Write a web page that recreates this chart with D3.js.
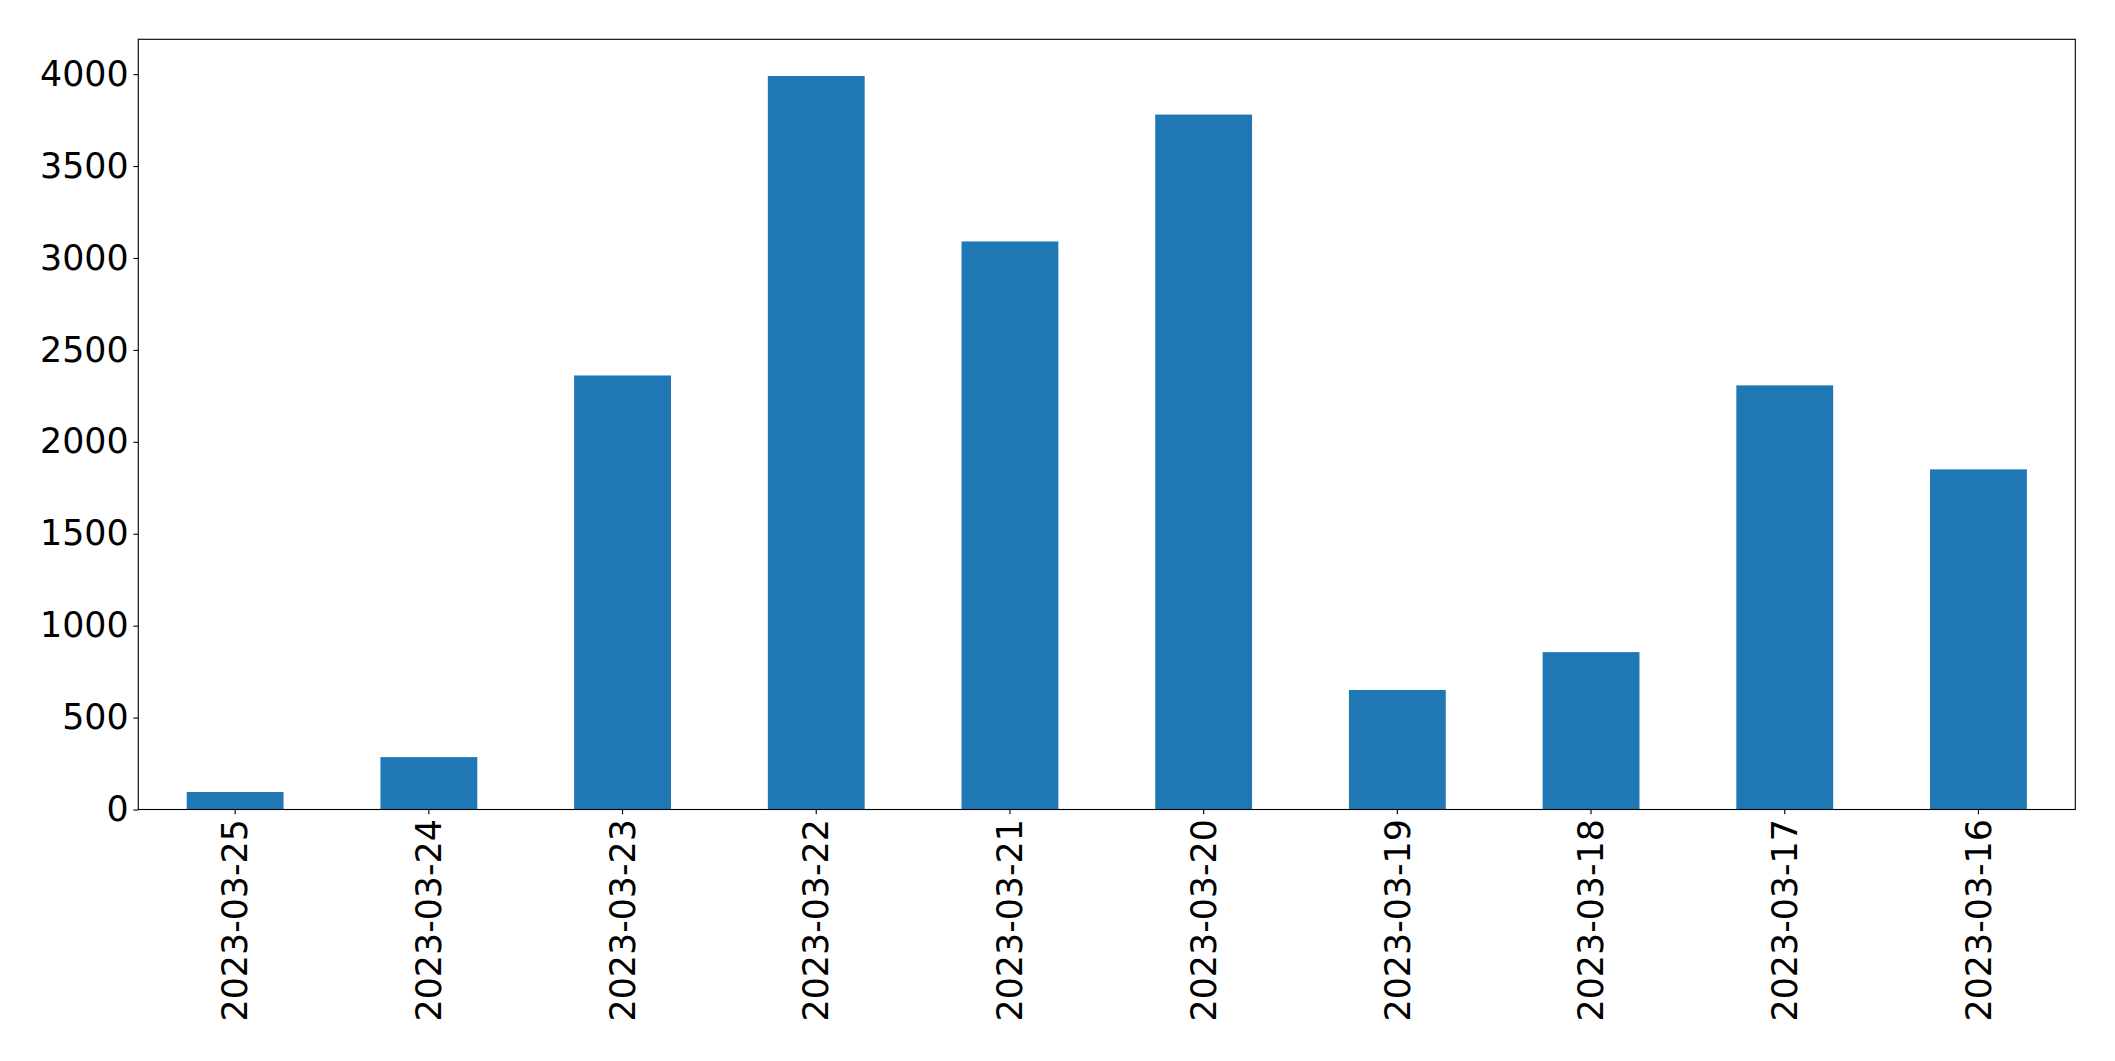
<!DOCTYPE html>
<html>
<head>
<meta charset="utf-8">
<script src="https://cdn.jsdelivr.net/npm/d3@7"></script>
<style>
  body { margin: 0; background: #fff; }
  text { font-family: "DejaVu Sans", sans-serif; }
</style>
</head>
<body>
<div id="chart"></div>
<script>
const width = 2115;
const height = 1061;
const bar_color = "#1f77b4";

// data
const dates = [
  "2023-03-25", "2023-03-24", "2023-03-23", "2023-03-22", "2023-03-21",
  "2023-03-20", "2023-03-19", "2023-03-18", "2023-03-17", "2023-03-16"
];
const counts = [95, 285, 2361, 3990, 3090, 3780, 650, 856, 2307, 1850];
const y_ticks = [0, 500, 1000, 1500, 2000, 2500, 3000, 3500, 4000];

// plot area
const margin = { top: 39.3, right: width - 2075.3, bottom: height - 809.5, left: 138.3 };
const inner_w = width - margin.left - margin.right;
const inner_h = height - margin.top - margin.bottom;

let svg = d3
  .select("#chart")
  .append("svg")
  .attr("width", width)
  .attr("height", height);

let g = svg.append("g").attr("transform", `translate(${margin.left},${margin.top})`);

// scales (matplotlib style: bar width 0.5, 5% headroom)
let x = d3.scaleBand().domain(dates).range([0, inner_w]).paddingInner(0.5).paddingOuter(0.25);
let y = d3.scaleLinear().domain([0, d3.max(counts) * 1.05]).range([inner_h, 0]);

// bars
g.selectAll(".bar")
  .data(dates)
  .enter()
  .append("rect")
  .attr("class", "bar")
  .attr("x", (d) => x(d))
  .attr("width", x.bandwidth())
  .attr("y", (d, i) => y(counts[i]))
  .attr("height", (d, i) => inner_h - y(counts[i]))
  .attr("fill", bar_color);

// y axis
let yAxis = g.append("g")
  .call(d3.axisLeft(y).tickValues(y_ticks).tickFormat(d3.format("d")).tickSize(4.86).tickPadding(4.86));

// x axis
let xAxis = g.append("g")
  .attr("transform", `translate(0,${inner_h})`)
  .call(d3.axisBottom(x).tickSize(4.86).tickPadding(4.86));

xAxis.selectAll("text")
  .attr("transform", "rotate(-90)")
  .attr("x", -9.7)
  .attr("y", 0)
  .attr("dy", "0.35em")
  .style("text-anchor", "end");

[xAxis, yAxis].forEach((a) => {
  a.select(".domain").remove();
  a.selectAll("line").attr("stroke", "#000").attr("stroke-width", 1.11);
  a.selectAll("text")
    .attr("fill", "#000")
    .style("font-size", "34.8px")
    .style("font-family", "'DejaVu Sans', sans-serif");
});

// frame
g.append("rect")
  .attr("width", inner_w)
  .attr("height", inner_h)
  .attr("fill", "none")
  .attr("stroke", "#000")
  .attr("stroke-width", 1.11);
</script>
</body>
</html>
